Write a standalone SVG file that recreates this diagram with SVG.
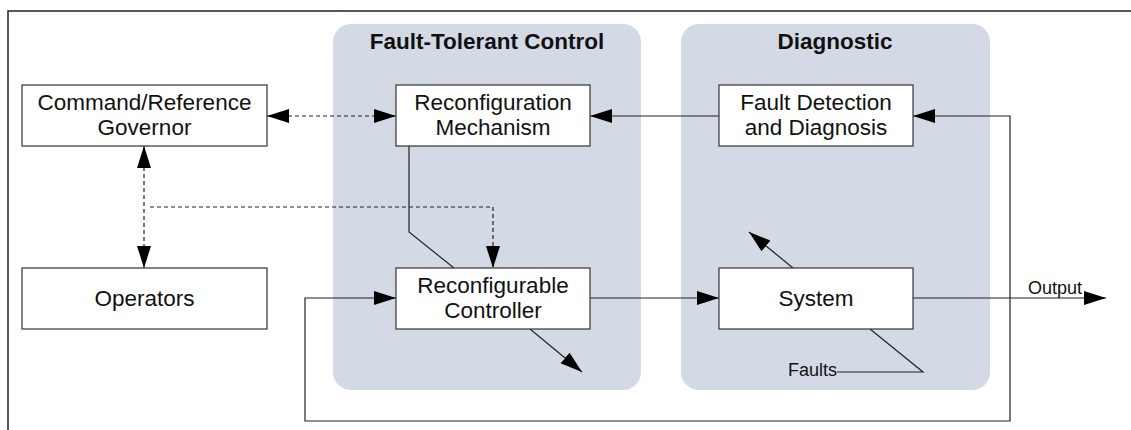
<svg xmlns="http://www.w3.org/2000/svg" width="1131" height="430" viewBox="0 0 1131 430">
  <defs>
    <style>
      .frame { fill: none; stroke: #222; stroke-width: 1.5; }
      .panel { fill: #D3DAE5; stroke: none; }
      .box { fill: #fff; stroke: #333; stroke-width: 1.2; }
      .lbl { font-family: "Liberation Sans", Arial, sans-serif; font-size: 22.5px; fill: #111; text-anchor: middle; }
      .title { font-family: "Liberation Sans", Arial, sans-serif; font-size: 22.5px; font-weight: bold; fill: #111; text-anchor: middle; }
      .small { font-family: "Liberation Sans", Arial, sans-serif; font-size: 18px; fill: #111; }
      .wire { fill: none; stroke: #222; stroke-width: 1.2; }
      .dash { fill: none; stroke: #222; stroke-width: 1.2; stroke-dasharray: 4 3; }
    </style>
    <marker id="arrow" markerUnits="userSpaceOnUse" markerWidth="24" markerHeight="16" refX="22" refY="7" orient="auto">
      <path d="M0,0 L22,7 L0,14 z" fill="#000"/>
    </marker>
    <marker id="arrowStart" markerUnits="userSpaceOnUse" markerWidth="24" markerHeight="16" refX="0" refY="7" orient="auto">
      <path d="M22,0 L0,7 L22,14 z" fill="#000"/>
    </marker>
  </defs>

  <rect width="1131" height="430" fill="#fff"/>

  <!-- outer frame (top and left edges) -->
  <path class="frame" d="M8,430 L8,11 L1131,11"/>

  <!-- grouping panels -->
  <g id="panel-ftc">
    <rect class="panel" x="333" y="24" width="308" height="366" rx="18"/>
    <text class="title" x="487" y="49">Fault-Tolerant Control</text>
  </g>
  <g id="panel-diagnostic">
    <rect class="panel" x="681" y="24" width="309" height="366" rx="18"/>
    <text class="title" x="835" y="49">Diagnostic</text>
  </g>

  <!-- connectors -->
  <g id="connectors">
    <!-- governor <-> reconfiguration mechanism -->
    <line class="dash" x1="267" y1="116" x2="396" y2="116" marker-start="url(#arrowStart)" marker-end="url(#arrow)"/>
    <!-- governor <-> operators -->
    <line class="dash" x1="144" y1="146" x2="144" y2="268" marker-start="url(#arrowStart)" marker-end="url(#arrow)"/>
    <!-- operators branch to controller -->
    <path class="dash" d="M150,207 L493,207 L493,268" marker-end="url(#arrow)"/>
    <!-- FDD -> reconfiguration mechanism -->
    <line class="wire" x1="719" y1="116" x2="590" y2="116" marker-end="url(#arrow)"/>
    <!-- feedback loop from output -->
    <path class="wire" d="M1010,298 L1010,421 L305,421 L305,298 L396,298" marker-end="url(#arrow)"/>
    <path class="wire" d="M1010,298 L1010,116 L913,116" marker-end="url(#arrow)"/>
    <!-- reconfiguration action through controller -->
    <path class="wire" d="M409,146 L409,232 L454,268"/>
    <line class="wire" x1="530" y1="329" x2="582" y2="372" marker-end="url(#arrow)"/>
    <!-- controller -> system -->
    <line class="wire" x1="590" y1="298" x2="719" y2="298" marker-end="url(#arrow)"/>
    <!-- system adjustment arrow -->
    <line class="wire" x1="793" y1="268" x2="749" y2="232" marker-end="url(#arrow)"/>
    <!-- faults entering system -->
    <path class="wire" d="M837,372 L923,372 L870,329"/>
    <!-- output -->
    <line class="wire" x1="913" y1="298" x2="1106" y2="298" marker-end="url(#arrow)"/>
  </g>

  <!-- nodes -->
  <g id="governor">
    <rect class="box" x="22" y="85" width="245" height="61"/>
    <text class="lbl" x="144.5" y="110">Command/Reference</text>
    <text class="lbl" x="144.5" y="135">Governor</text>
  </g>
  <g id="operators">
    <rect class="box" x="22" y="268" width="245" height="61"/>
    <text class="lbl" x="144.5" y="306">Operators</text>
  </g>
  <g id="reconfiguration-mechanism">
    <rect class="box" x="396" y="85" width="194" height="61"/>
    <text class="lbl" x="493" y="109.5">Reconfiguration</text>
    <text class="lbl" x="493" y="134.5">Mechanism</text>
  </g>
  <g id="reconfigurable-controller">
    <rect class="box" x="396" y="268" width="194" height="61"/>
    <text class="lbl" x="493" y="292.5">Reconfigurable</text>
    <text class="lbl" x="493" y="318">Controller</text>
  </g>
  <g id="fdd">
    <rect class="box" x="719" y="85" width="194" height="61"/>
    <text class="lbl" x="816" y="109.5">Fault Detection</text>
    <text class="lbl" x="816" y="134.5">and Diagnosis</text>
  </g>
  <g id="system">
    <rect class="box" x="719" y="268" width="194" height="61"/>
    <text class="lbl" x="816" y="306">System</text>
  </g>

  <!-- signal labels -->
  <text class="small" x="788" y="376">Faults</text>
  <text class="small" x="1028" y="294">Output</text>
</svg>
